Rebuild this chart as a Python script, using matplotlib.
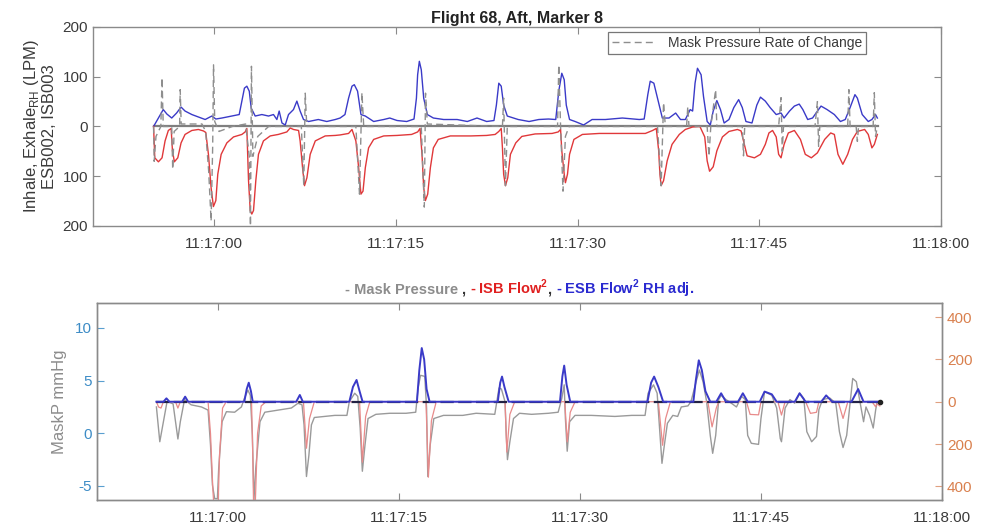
import numpy as np
import matplotlib
matplotlib.use('Agg')
import matplotlib.pyplot as plt
from matplotlib.offsetbox import TextArea, HPacker, AnchoredOffsetbox

plt.rcParams['font.family'] = ['Liberation Sans', 'DejaVu Sans']
plt.rcParams['mathtext.fontset'] = 'custom'
plt.rcParams['mathtext.rm'] = 'Liberation Sans'
plt.rcParams['mathtext.bf'] = 'Liberation Sans:bold'
plt.rcParams['axes.unicode_minus'] = False

# time axis: seconds after 11:17:00
x_ticks = [0, 15, 30, 45, 60]
x_ticklabels = ['11:17:00', '11:17:15', '11:17:30', '11:17:45', '11:18:00']
x_lim = (-10, 60)

# upper panel, flow in LPM (inhale plotted negative)
flow_yticks = [-200, -100, 0, 100, 200]
flow_yticklabels = ['200', '100', '0', '100', '200']

esb_top = [(-5.0,0),(-4.6,17),(-4.2,34),(-3.9,25),(-3.5,17),(-3.1,27),(-2.73,39),(-2.4,31),(-1.84,24),
           (-1.3,19),(-0.74,14),(-0.19,21),(0.14,15),(0.64,17),(1.46,21),(2.07,24),(2.29,51),(2.5,77),
           (2.7,81),(2.9,71),(3.06,37),(3.39,21),(3.94,24),(4.49,21),(4.9,24),(5.18,14),(5.37,31),(5.6,7),
           (5.87,3),(6.14,24),(6.55,34),(6.83,51),(7.1,31),(7.38,14),(7.8,10),(8.6,14),(9.3,10),(10.0,14),
           (10.4,17),(10.8,24),(11.1,57),(11.38,81),(11.57,84),(11.84,71),(12.12,24),(12.48,21),(13.17,10),
           (14.0,14),(14.5,17),(15.1,12),(15.9,10),(16.5,15),(16.7,57),(16.8,104),(16.94,131),(17.1,114),
           (17.3,57),(17.6,24),(18.1,17),(18.95,14),(20.06,14),(20.9,10),(21.7,17),(22.5,10),(23.1,12),
           (23.3,43),(23.5,87),(23.7,81),(23.9,43),(24.2,21),(24.7,17),(25.1,14),(26.0,10),(26.8,14),
           (27.6,15),(28.2,14),(28.45,71),(28.7,107),(28.9,94),(29.07,43),(29.34,14),(29.8,10),(30.5,3),
           (31.2,14),(32.3,14),(33.7,17),(35.1,14),(35.5,15),(35.8,64),(36.0,91),(36.3,87),(36.6,57),
           (37.0,17),(37.55,17),(38.1,27),(38.5,14),(38.9,14),(39.3,34),(39.5,31),(39.7,87),(39.9,117),
           (40.2,104),(40.4,60),(40.7,10),(40.96,3),(41.2,31),(41.5,52),(41.8,34),(42.1,7),(42.5,14),
           (42.9,38),(43.3,54),(43.6,38),(43.9,10),(44.4,7),(44.8,43),(45.1,59),(45.5,51),(45.9,38),
           (46.4,24),(46.8,27),(47.05,17),(47.5,31),(47.9,41),(48.3,45),(48.6,34),(49.0,14),(49.4,17),
           (50.1,41),(50.6,34),(51.2,24),(51.7,10),(52.1,14),(52.5,38),(52.9,64),(53.1,57),(53.5,24),
           (54.0,10),(54.3,14),(54.6,24),(54.75,17)]

isb_top = [(-5.0,0),(-4.9,-63),(-4.6,-71),(-4.3,-63),(-4.05,-29),(-3.78,-8),(-3.55,-4),(-3.44,-49),
           (-3.28,-71),(-3.0,-63),(-2.73,-33),(-2.4,-16),(-1.84,-8),(-1.3,-6),(-0.88,-9),(-0.69,-12),
           (-0.47,-56),(-0.25,-123),(-0.06,-161),(0.14,-149),(0.3,-96),(0.58,-56),(1.05,-33),(1.6,-21),
           (2.29,-16),(2.56,-11),(2.7,-4),(2.84,-109),(2.98,-169),(3.11,-176),(3.25,-169),(3.44,-109),
           (3.66,-56),(4.07,-29),(4.63,-19),(5.3,-16),(6.0,-11),(6.28,-3),(6.55,-6),(6.97,-8),(7.1,-29),
           (7.3,-83),(7.46,-119),(7.66,-103),(7.93,-56),(8.35,-29),(9.17,-19),(10.0,-18),(10.4,-17),
           (11.1,-14),(11.38,-6),(11.7,-29),(11.93,-83),(12.12,-136),(12.29,-130),(12.48,-83),(12.75,-43),
           (13.17,-26),(14.0,-19),(15.1,-18),(16.3,-16),(16.8,-11),(17.0,-4),(17.16,-56),(17.3,-123),
           (17.44,-149),(17.63,-136),(17.85,-83),(18.1,-43),(18.5,-26),(19.5,-19),(21.2,-19),(22.5,-18),
           (23.2,-16),(23.5,-10),(23.7,-4),(23.8,-43),(23.9,-96),(24.05,-119),(24.24,-103),(24.46,-56),
           (24.9,-33),(25.4,-20),(26.5,-15),(27.9,-14),(28.4,-11),(28.6,-6),(28.7,-49),(28.9,-96),
           (29.0,-113),(29.17,-96),(29.34,-56),(29.7,-26),(30.4,-16),(31.8,-14),(34.0,-14),(35.6,-14),
           (36.2,-8),(36.5,-4),(36.7,-49),(36.8,-96),(36.9,-119),(37.1,-109),(37.4,-69),(37.8,-36),
           (38.4,-16),(38.9,-6),(39.5,-1),(40.1,0),(40.5,-21),(40.7,-69),(40.9,-90),(41.2,-81),(41.5,-49),
           (41.96,-21),(42.5,-10),(43.2,-6),(43.5,-9),(43.8,-39),(44.0,-59),(44.6,-63),(45.1,-56),
           (45.5,-36),(45.8,-13),(46.1,-8),(46.4,-21),(46.6,-56),(46.8,-63),(47.05,-36),(47.4,-13),
           (47.9,-8),(48.4,-26),(48.8,-56),(49.3,-63),(49.8,-53),(50.4,-26),(50.9,-13),(51.2,-16),
           (51.5,-56),(51.9,-76),(52.3,-56),(52.7,-26),(53.1,-10),(53.7,-6),(54.0,-16),(54.3,-43),
           (54.5,-36),(54.75,-16)]

# mask pressure rate of change (dashed)
roc_top = [(-5.0,0),(-4.95,-70),(-4.8,-20),(-4.4,0),(-4.3,98),(-4.2,0),(-3.5,0),(-3.42,-86),(-3.3,-10),
           (-2.85,0),(-2.8,74),(-2.72,5),(-1.0,5),(-0.7,-10),(-0.45,-90),(-0.25,-190),(-0.12,-40),
           (-0.05,124),(0.05,10),(0.4,-10),(1.5,0),(2.6,5),(2.9,-60),(3.0,-200),(3.08,121),(3.2,-60),
           (3.6,-20),(4.5,0),(7.2,0),(7.4,-119),(7.52,67),(7.65,0),(11.7,0),(12.0,-136),(12.2,68),
           (12.35,0),(17.1,0),(17.35,-162),(17.45,67),(17.6,5),(23.8,0),(23.9,57),(24.05,-119),(24.2,0),
           (28.35,0),(28.45,124),(28.6,0),(28.8,-130),(29.0,-20),(29.3,0),(36.6,0),(36.9,-119),(37.1,48),
           (37.25,0),(39.0,0),(39.1,40),(39.2,0),(40.7,0),(40.85,-60),(41.0,0),(41.4,74),(41.5,0),
           (43.6,0),(43.7,-59),(43.8,0),(46.6,0),(46.8,58),(46.9,-50),(47.0,0),(49.6,0),(49.8,50),
           (49.9,-40),(50.0,0),(52.3,0),(52.4,74),(52.5,0),(53.0,0),(53.1,-30),(53.2,0),(54.4,0),
           (54.5,68),(54.6,-20),(54.75,0)]
zero_top_t = [-5.0, 54.8]

# lower panel: mask pressure (mmHg, left) and squared flows (right)
maskp_yticks = [-5, 0, 5, 10]
maskp_ylim = (-6.33, 12.36)
flow2_yticks = [-400, -200, 0, 200, 400]
flow2_yticklabels = ['400', '200', '0', '200', '400']
flow2_ylim = (-465, 467)

maskp = [(-5.08,2.5),(-4.8,-0.8),(-4.5,1.1),(-4.2,3.0),(-3.7,2.8),(-3.5,1.1),(-3.3,-0.54),(-3.1,1.1),
         (-2.75,3.2),(-2.2,2.7),(-1.35,2.5),(-0.8,2.2),(-0.6,-1.1),(-0.44,-4.9),(-0.25,-6.2),(-0.03,-6.2),
         (0.08,-3.3),(0.36,1.1),(0.72,2.05),(1.4,2.0),(1.96,2.5),(2.2,3.3),(2.5,4.1),(2.7,3.6),(2.87,-0.2),
         (3.0,-6.3),(3.15,-3.3),(3.5,1.1),(3.9,2.0),(5.0,2.2),(6.1,2.4),(6.65,2.85),(6.98,2.7),(7.15,0.8),
         (7.35,-4.1),(7.55,-2.1),(7.76,0.8),(8.0,1.5),(9.7,1.7),(10.7,1.7),(10.9,3.0),(11.35,3.8),
         (11.6,3.5),(11.8,0.5),(11.98,-3.6),(12.2,-1.1),(12.45,1.4),(13.1,1.8),(14.25,1.9),(15.6,1.9),
         (16.4,2.0),(16.6,4.3),(16.8,5.5),(17.15,5.4),(17.3,2.4),(17.4,-4.1),(17.6,-1.1),(17.9,1.4),
         (18.7,1.7),(20.3,1.7),(21.4,1.9),(22.95,1.8),(23.3,4.3),(23.5,4.2),(23.8,3.0),(23.9,-0.2),
         (24.0,-2.5),(24.2,-0.8),(24.5,1.4),(25.0,1.9),(26.0,1.8),(27.4,1.9),(28.2,2.0),(28.5,3.3),
         (28.7,4.6),(28.8,1.4),(28.95,-1.7),(29.15,1.1),(29.6,1.7),(30.95,1.7),(32.9,1.6),(34.3,1.7),
         (35.4,1.7),(35.65,3.8),(36.1,4.6),(36.4,3.8),(36.6,0.5),(36.8,-2.85),(37.0,-1.1),(37.25,0.95),
         (37.7,1.7),(38.1,1.6),(38.4,2.5),(38.95,2.6),(39.2,3.0),(39.7,5.2),(39.9,6.0),(40.2,4.9),
         (40.5,3.0),(40.8,-0.2),(41.0,-1.9),(41.25,-0.2),(41.5,3.2),(41.7,3.6),(42.1,3.2),(42.55,2.85),
         (42.97,2.5),(43.4,3.5),(43.7,3.2),(43.9,-0.2),(44.2,-0.95),(44.8,-1.05),(45.0,1.4),(45.3,3.95),
         (45.9,3.6),(46.3,2.4),(46.6,-0.5),(46.7,-0.8),(47.0,2.4),(47.4,3.2),(47.8,2.85),(48.2,3.8),
         (48.55,3.3),(48.8,0.15),(49.2,-0.8),(49.6,-0.3),(49.8,2.25),(50.1,3.2),(50.7,3.35),(51.2,2.85),
         (51.5,0.15),(51.8,-1.35),(52.1,-0.2),(52.4,3.0),(52.6,5.2),(52.9,4.9),(53.2,3.0),(53.5,1.1),
         (53.7,2.5),(54.0,1.7),(54.3,0.5),(54.5,2.2),(54.6,2.85)]

isb_flow2 = [(-5.08,0),(-4.9,-25),(-4.7,-30),(-4.5,0),(-3.5,0),(-3.3,-30),(-3.1,0),(-0.8,0),(-0.6,-150),
             (-0.4,-420),(-0.2,-600),(0.0,-560),(0.15,-250),(0.4,-30),(0.7,0),(2.8,0),(2.9,-250),
             (3.0,-600),(3.1,-500),(3.3,-150),(3.6,-20),(4.0,0),(7.1,0),(7.35,-220),(7.6,-80),(8.0,0),
             (11.75,0),(11.98,-286),(12.25,-70),(12.6,0),(17.25,0),(17.45,-357),(17.7,-90),(18.1,0),
             (23.8,0),(23.95,-238),(24.2,-60),(24.6,0),(28.75,0),(28.95,-190),(29.2,-50),(29.6,0),
             (36.5,0),(36.85,-206),(37.1,-80),(37.5,0),(40.6,0),(40.95,-119),(41.3,-30),(41.5,0),
             (43.8,0),(44.1,-60),(44.8,-62),(45.0,0),(46.4,0),(46.7,-63),(47.0,0),(48.7,0),(49.1,-55),
             (49.6,-50),(49.8,0),(51.4,0),(51.8,-79),(52.2,0),(54.2,0),(54.5,-24),(54.6,-10),(54.85,-20)]

esb_flow2 = [(-5.08,0),(-4.5,0),(-4.25,16),(-4.0,0),(-2.95,0),(-2.7,24),(-2.45,0),(2.2,0),(2.4,60),
             (2.57,90),(2.75,50),(2.9,0),(6.5,0),(6.8,32),(7.05,0),(10.9,0),(11.2,70),(11.5,103),
             (11.75,50),(12.0,0),(16.5,0),(16.7,150),(16.9,254),(17.1,200),(17.3,60),(17.55,0),(23.2,0),
             (23.4,90),(23.55,119),(23.75,70),(24.1,0),(28.35,0),(28.55,120),(28.7,171),(28.9,80),
             (29.2,0),(35.6,0),(35.9,90),(36.15,119),(36.5,70),(36.9,0),(39.4,0),(39.6,100),(39.85,196),
             (40.1,150),(40.4,50),(40.8,0),(41.3,0),(41.7,40),(42.1,0),(43.1,0),(43.5,40),(43.9,0),
             (44.9,0),(45.3,48),(45.9,35),(46.3,0),(47.8,0),(48.2,40),(48.7,0),(50.0,0),(50.4,30),
             (50.9,0),(52.5,0),(53.05,60),(53.5,0),(54.9,0)]
zero_bottom_t = [-5.08, 54.9]


def xy(pairs):
    arr = np.array(pairs, dtype=float)
    return arr[:, 0], arr[:, 1]


spine_col = '#8a8a8a'
text_col = '#3a3a3a'
c_blue = '#3a3ac8'
c_red = '#e0383a'

fig = plt.figure(figsize=(9.82, 5.27), dpi=100)
ax1 = fig.add_axes([0.0947, 0.5712, 0.8635, 0.3776])
ax2 = fig.add_axes([0.0988, 0.0512, 0.8605, 0.3738])
ax2r = ax2.twinx()

# ---- upper panel ----
ax1.plot(zero_top_t, [0, 0], color='#7f7f7f', lw=1.6, zorder=1)
t, v = xy(roc_top)
ax1.plot(t, v, color='#8e8e8e', lw=1.0, ls=(0, (5, 3)), label='Mask Pressure Rate of Change', zorder=4)
t, v = xy(esb_top)
ax1.plot(t, v, color=c_blue, lw=1.0, zorder=3)
t, v = xy(isb_top)
ax1.plot(t, v, color=c_red, lw=1.0, zorder=3)

ax1.set_xlim(*x_lim)
ax1.set_ylim(-200, 200)
ax1.set_xticks(x_ticks)
ax1.set_xticklabels(x_ticklabels)
ax1.set_yticks(flow_yticks)
ax1.set_yticklabels(flow_yticklabels)
ax1.tick_params(direction='in', top=True, right=True, length=5, width=0.8,
                color=spine_col, labelcolor=text_col, labelsize=11)
ax1.tick_params(axis='x', pad=8)
ax1.set_ylabel('Inhale, Exhale$_{\\rm RH}$ (LPM)\nESB002, ISB003', fontsize=12, color=text_col,
               labelpad=4, linespacing=1.1)
ax1.set_title('Flight 68, Aft, Marker 8', fontsize=11.5, fontweight='bold', color='#222222', pad=3)
leg = ax1.legend(loc='upper right', bbox_to_anchor=(0.9116, 0.975), borderaxespad=0,
                 fontsize=10, handlelength=3.2, frameon=True, fancybox=False,
                 borderpad=0.3, edgecolor='#555555', labelcolor=text_col)
leg.get_frame().set_linewidth(0.9)

# ---- lower panel ----
t, v = xy(maskp)
ax2.plot(t, v, color='#9a9a9a', lw=1.0, zorder=2)
t, v = xy(isb_flow2)
ax2r.plot(t, v, color='#e88a8a', lw=0.9, zorder=2)
ax2r.plot(zero_bottom_t, [0, 0], color='#222244', lw=1.6, ls=(0, (6, 2)), zorder=3)
t, v = xy(esb_flow2)
ax2r.plot(t, v, color=c_blue, lw=1.4, zorder=4)
ax2r.plot(zero_bottom_t[-1], 0, 'o', color='#222222', ms=3, zorder=5)

ax2.set_xlim(*x_lim)
ax2.set_ylim(*maskp_ylim)
ax2.set_xticks(x_ticks)
ax2.set_xticklabels(x_ticklabels)
ax2.set_yticks(maskp_yticks)
ax2.tick_params(axis='x', direction='in', top=True, length=5, width=0.8, pad=8,
                color=spine_col, labelcolor=text_col, labelsize=11)
ax2.tick_params(axis='y', direction='in', length=5, width=0.8, color='#5a9fd0',
                labelcolor='#3d8cc6', labelsize=11)
ax2.set_ylabel('MaskP mmHg', fontsize=12, color='#8c8c8c', labelpad=6)

ax2r.set_ylim(*flow2_ylim)
ax2r.set_yticks(flow2_yticks)
ax2r.set_yticklabels(flow2_yticklabels)
ax2r.tick_params(axis='y', direction='in', length=5, width=0.8, color='#e0a080',
                 labelcolor='#d9804e', labelsize=11)

for a in (ax1, ax2, ax2r):
    for s in a.spines.values():
        s.set_color(spine_col)
        s.set_linewidth(1.0)

# multi-coloured heading over the lower panel
parts = [('- Mask Pressure ', '#8c8c8c'), (', ', '#333333'),
         ('- ISB Flow$^{\\mathbf{2}}$', '#e02020'), (', ', '#333333'),
         ('- ESB Flow$^{\\mathbf{2}}$ RH adj.', '#2a2ad0')]
boxes = [TextArea(s, textprops=dict(color=c, fontsize=10.5, fontweight='bold')) for s, c in parts]
pack = HPacker(children=boxes, align='baseline', pad=0, sep=0)
anch = AnchoredOffsetbox(loc='lower center', child=pack, frameon=False, pad=0, borderpad=0.25,
                         bbox_to_anchor=(0.5, 1.0), bbox_transform=ax2.transAxes)
ax2.add_artist(anch)

fig.savefig('out.png', dpi=100)
